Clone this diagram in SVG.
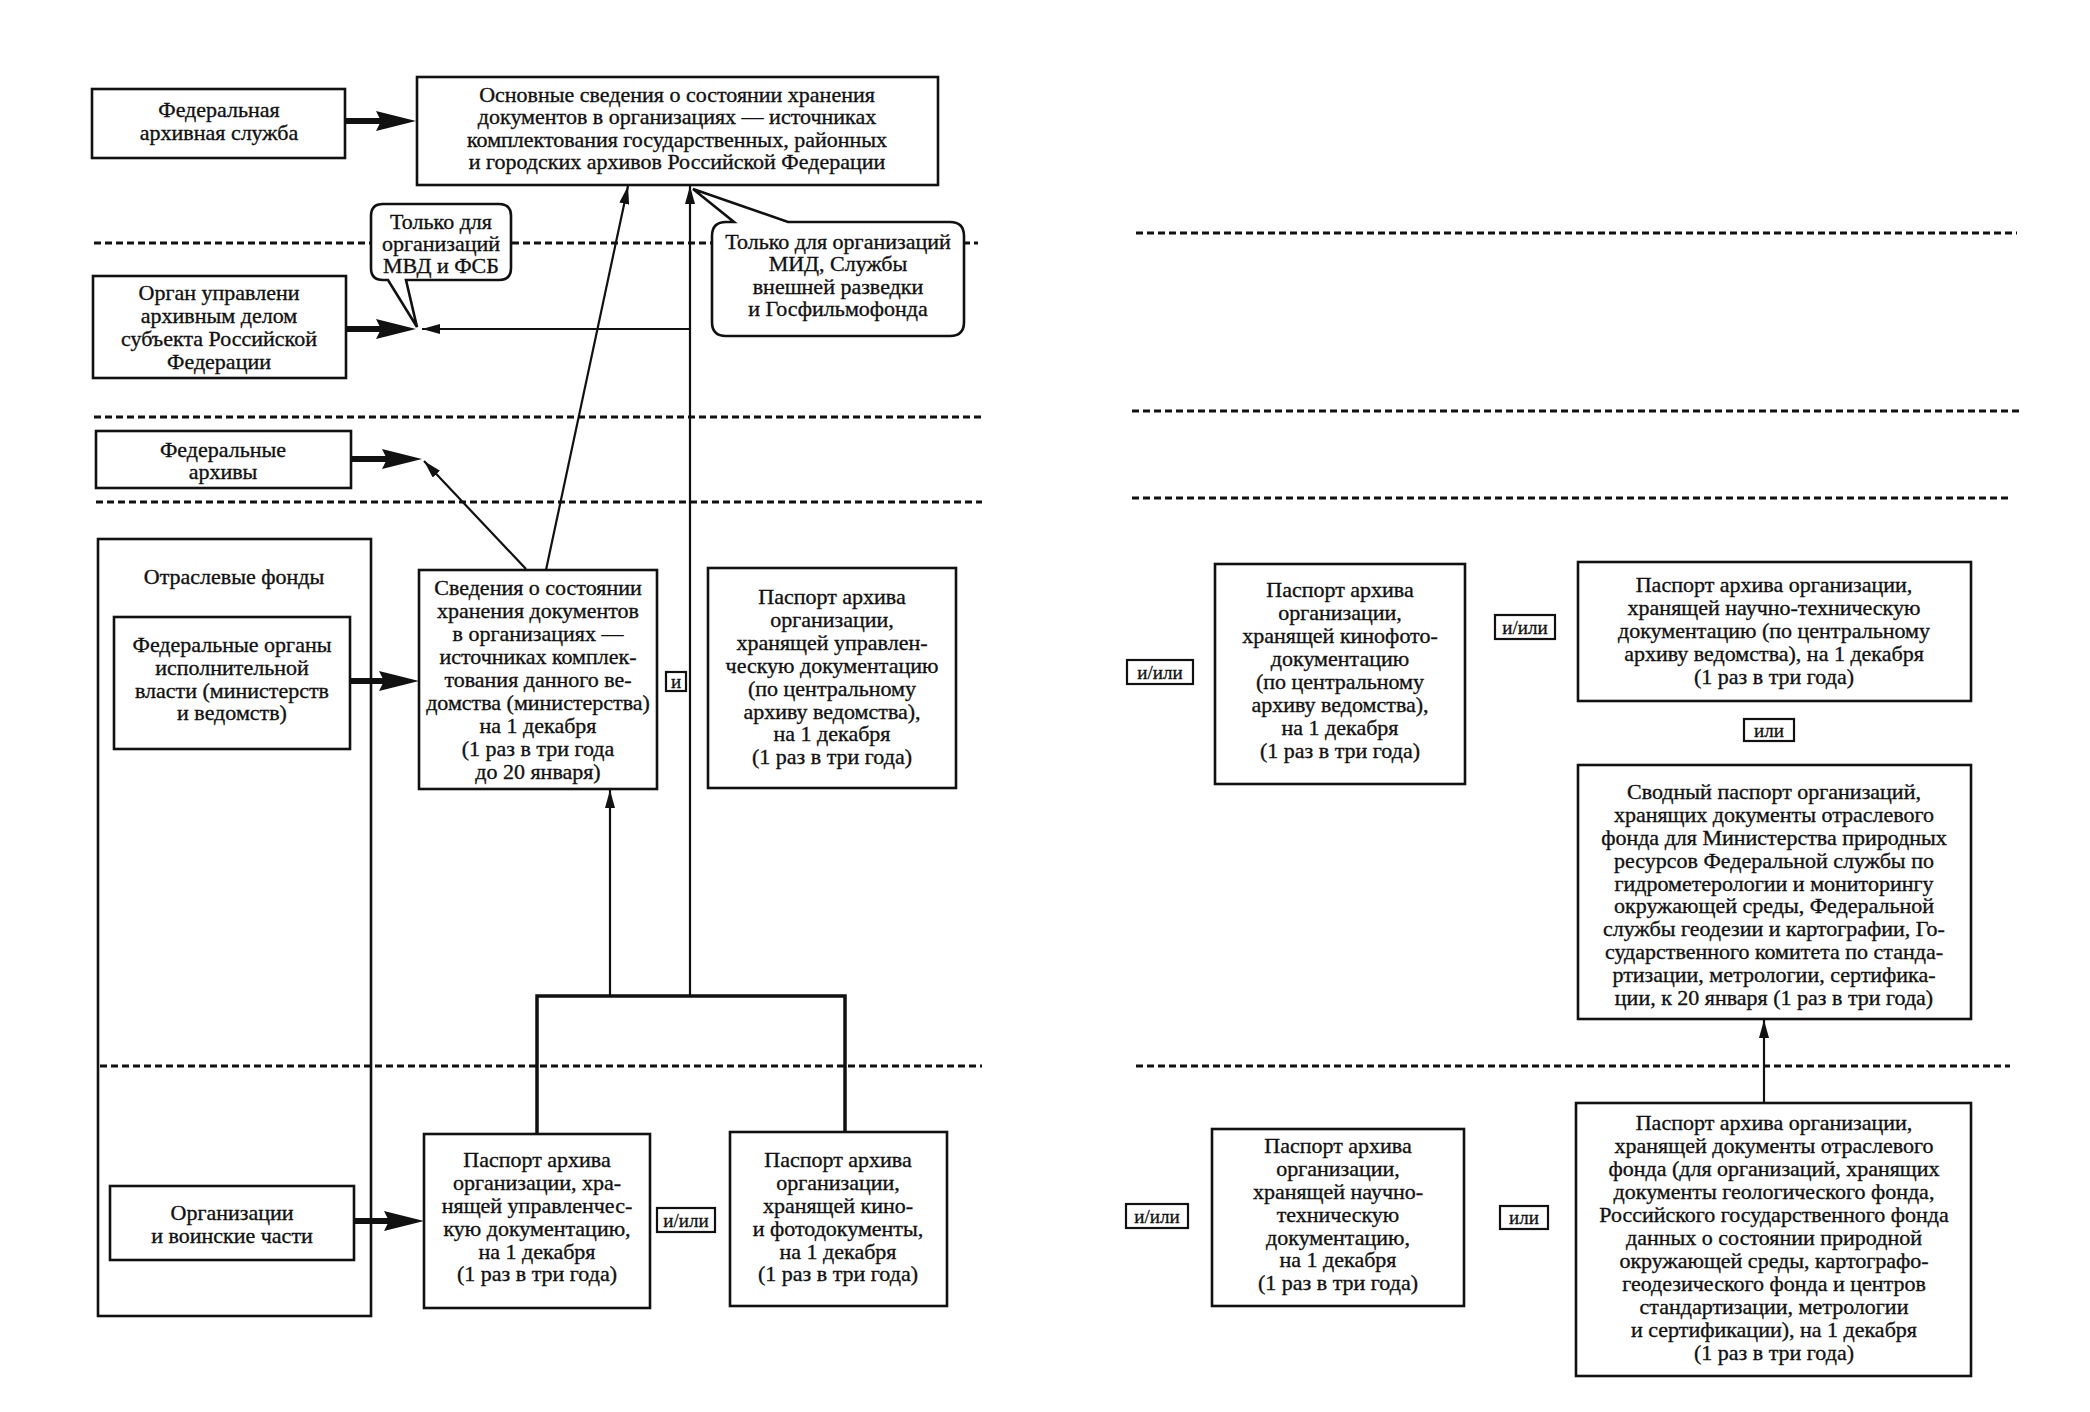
<svg xmlns="http://www.w3.org/2000/svg" width="2090" height="1412" viewBox="0 0 2090 1412">
<style>
.box{fill:#fff;stroke:#111;stroke-width:2.6}
.frame{fill:none;stroke:#111;stroke-width:2.6}
.lbl{fill:#fff;stroke:#111;stroke-width:2.2}
.t{font-family:"Liberation Serif","Times New Roman",serif;font-size:22px;text-anchor:middle;fill:#111;stroke:#111;stroke-width:0.35}
.s{font-family:"Liberation Serif","Times New Roman",serif;font-size:19px;text-anchor:middle;fill:#111;stroke:#111;stroke-width:0.3}
.dash{stroke:#111;stroke-width:3;stroke-dasharray:7 4;fill:none}
.thick{stroke:#111;stroke-width:6;fill:none;marker-end:url(#big)}
.thin{stroke:#111;stroke-width:2.2;fill:none;marker-end:url(#small)}
.branch{stroke:#111;stroke-width:3.5;fill:none}
</style>
<defs>
<marker id="big" markerUnits="userSpaceOnUse" viewBox="0 0 40 20" refX="10" refY="10" markerWidth="40" markerHeight="20" orient="auto">
<path d="M0,0 L40,10 L0,20 L5,10 Z" fill="#111"/>
</marker>
<marker id="small" markerUnits="userSpaceOnUse" viewBox="0 0 18 10" refX="18" refY="5" markerWidth="18" markerHeight="10" orient="auto">
<path d="M0,0 L18,5 L0,10 Z" fill="#111"/>
</marker>
</defs>
<rect width="2090" height="1412" fill="#fff"/>

<g id="n5-frame">
<rect class="frame" x="98" y="539" width="273" height="777"/>
<text class="t" x="234" y="584">Отраслевые фонды</text>
</g>

<g id="separators">
<line class="dash" x1="94" y1="243" x2="978" y2="243"/>
<line class="dash" x1="94" y1="417" x2="982" y2="417"/>
<line class="dash" x1="96" y1="502" x2="982" y2="502"/>
<line class="dash" x1="100" y1="1066" x2="982" y2="1066"/>
<line class="dash" x1="1136" y1="233" x2="2017" y2="233"/>
<line class="dash" x1="1132" y1="411" x2="2019" y2="411"/>
<line class="dash" x1="1132" y1="498" x2="2010" y2="498"/>
<line class="dash" x1="1136" y1="1066" x2="2010" y2="1066"/>
</g>

<g id="connectors">
<line class="thick" x1="345" y1="121" x2="386" y2="121"/>
<line class="thick" x1="346" y1="329" x2="386" y2="329"/>
<line class="thick" x1="351" y1="459" x2="392" y2="459"/>
<line class="thick" x1="350" y1="681" x2="389" y2="681"/>
<line class="thick" x1="354" y1="1221" x2="394" y2="1221"/>
<line class="thin" x1="546" y1="570" x2="628" y2="186"/>
<line class="thin" x1="526" y1="569" x2="424" y2="461"/>
<line class="thin" x1="690" y1="996" x2="690" y2="186"/>
<line class="thin" x1="690" y1="329" x2="422" y2="329"/>
<line class="thin" x1="610" y1="996" x2="610" y2="790"/>
<polyline class="branch" points="537,1134 537,996 845,996 845,1132"/>
<line class="thin" x1="1764" y1="1103" x2="1764" y2="1020"/>
</g>

<g id="n1">
<rect class="box" x="92" y="89" width="253" height="69"/>
<text class="t" x="219" y="117">Федеральная</text>
<text class="t" x="219" y="140">архивная служба</text>
</g>

<g id="n2">
<rect class="box" x="417" y="77" width="521" height="108"/>
<text class="t" x="677" y="102">Основные сведения о состоянии хранения</text>
<text class="t" x="677" y="124">документов в организациях — источниках</text>
<text class="t" x="677" y="147">комплектования государственных, районных</text>
<text class="t" x="677" y="169">и городских архивов Российской Федерации</text>
</g>

<g id="callout1">
<path class="box" d="M383,204 H499 Q511,204 511,216 V268 Q511,280 499,280 H406 L417,327 L388,280 H383 Q371,280 371,268 V216 Q371,204 383,204 Z"/>
<text class="t" x="441" y="229">Только для</text>
<text class="t" x="441" y="251">организаций</text>
<text class="t" x="441" y="273">МВД и ФСБ</text>
</g>

<g id="callout2">
<path class="box" d="M726,222 H734 L693,189 L788,222 H950 Q964,222 964,236 V322 Q964,336 950,336 H726 Q712,336 712,322 V236 Q712,222 726,222 Z"/>
<text class="t" x="838" y="249">Только для организаций</text>
<text class="t" x="838" y="271">МИД, Службы</text>
<text class="t" x="838" y="294">внешней разведки</text>
<text class="t" x="838" y="316">и Госфильмофонда</text>
</g>

<g id="n3">
<rect class="box" x="93" y="276" width="253" height="102"/>
<text class="t" x="219" y="300">Орган управлени</text>
<text class="t" x="219" y="323">архивным делом</text>
<text class="t" x="219" y="346">субъекта Российской</text>
<text class="t" x="219" y="369">Федерации</text>
</g>

<g id="n4">
<rect class="box" x="96" y="431" width="255" height="57"/>
<text class="t" x="223" y="457">Федеральные</text>
<text class="t" x="223" y="479">архивы</text>
</g>

<g id="n6">
<rect class="box" x="114" y="617" width="236" height="132"/>
<text class="t" x="232" y="652">Федеральные органы</text>
<text class="t" x="232" y="675">исполнительной</text>
<text class="t" x="232" y="698">власти (министерств</text>
<text class="t" x="232" y="720">и ведомств)</text>
</g>

<g id="n7">
<rect class="box" x="419" y="570" width="238" height="219"/>
<text class="t" x="538" y="595">Сведения о состоянии</text>
<text class="t" x="538" y="618">хранения документов</text>
<text class="t" x="538" y="641">в организациях —</text>
<text class="t" x="538" y="664">источниках комплек-</text>
<text class="t" x="538" y="687">тования данного ве-</text>
<text class="t" x="538" y="710">домства (министерства)</text>
<text class="t" x="538" y="733">на 1 декабря</text>
<text class="t" x="538" y="756">(1 раз в три года</text>
<text class="t" x="538" y="779">до 20 января)</text>
</g>

<g id="n8">
<rect class="lbl" x="666" y="672" width="20" height="19"/>
<text class="s" x="676" y="688">и</text>
</g>

<g id="n9">
<rect class="box" x="708" y="568" width="248" height="220"/>
<text class="t" x="832" y="604">Паспорт архива</text>
<text class="t" x="832" y="627">организации,</text>
<text class="t" x="832" y="650">хранящей управлен-</text>
<text class="t" x="832" y="673">ческую документацию</text>
<text class="t" x="832" y="696">(по центральному</text>
<text class="t" x="832" y="719">архиву ведомства),</text>
<text class="t" x="832" y="741">на 1 декабря</text>
<text class="t" x="832" y="764">(1 раз в три года)</text>
</g>

<g id="n10">
<rect class="box" x="110" y="1186" width="244" height="74"/>
<text class="t" x="232" y="1220">Организации</text>
<text class="t" x="232" y="1243">и воинские части</text>
</g>

<g id="n11">
<rect class="box" x="424" y="1134" width="226" height="174"/>
<text class="t" x="537" y="1167">Паспорт архива</text>
<text class="t" x="537" y="1190">организации, хра-</text>
<text class="t" x="537" y="1213">нящей управленчес-</text>
<text class="t" x="537" y="1236">кую документацию,</text>
<text class="t" x="537" y="1259">на 1 декабря</text>
<text class="t" x="537" y="1281">(1 раз в три года)</text>
</g>

<g id="n12">
<rect class="lbl" x="657" y="1208" width="58" height="24"/>
<text class="s" x="686" y="1227">и/или</text>
</g>

<g id="n13">
<rect class="box" x="730" y="1132" width="217" height="174"/>
<text class="t" x="838" y="1167">Паспорт архива</text>
<text class="t" x="838" y="1190">организации,</text>
<text class="t" x="838" y="1213">хранящей кино-</text>
<text class="t" x="838" y="1236">и фотодокументы,</text>
<text class="t" x="838" y="1259">на 1 декабря</text>
<text class="t" x="838" y="1281">(1 раз в три года)</text>
</g>

<g id="n14">
<rect class="lbl" x="1127" y="660" width="66" height="24"/>
<text class="s" x="1160" y="679">и/или</text>
</g>

<g id="n15">
<rect class="box" x="1215" y="564" width="250" height="220"/>
<text class="t" x="1340" y="597">Паспорт архива</text>
<text class="t" x="1340" y="620">организации,</text>
<text class="t" x="1340" y="643">хранящей кинофото-</text>
<text class="t" x="1340" y="666">документацию</text>
<text class="t" x="1340" y="689">(по центральному</text>
<text class="t" x="1340" y="712">архиву ведомства),</text>
<text class="t" x="1340" y="735">на 1 декабря</text>
<text class="t" x="1340" y="758">(1 раз в три года)</text>
</g>

<g id="n16">
<rect class="lbl" x="1495" y="615" width="60" height="24"/>
<text class="s" x="1525" y="634">и/или</text>
</g>

<g id="n17">
<rect class="box" x="1578" y="562" width="393" height="139"/>
<text class="t" x="1774" y="592">Паспорт архива организации,</text>
<text class="t" x="1774" y="615">хранящей научно-техническую</text>
<text class="t" x="1774" y="638">документацию (по центральному</text>
<text class="t" x="1774" y="661">архиву ведомства), на 1 декабря</text>
<text class="t" x="1774" y="684">(1 раз в три года)</text>
</g>

<g id="n18">
<rect class="lbl" x="1744" y="719" width="50" height="22"/>
<text class="s" x="1769" y="737">или</text>
</g>

<g id="n19">
<rect class="box" x="1578" y="765" width="393" height="254"/>
<text class="t" x="1774" y="799">Сводный паспорт организаций,</text>
<text class="t" x="1774" y="822">хранящих документы отраслевого</text>
<text class="t" x="1774" y="845">фонда для Министерства природных</text>
<text class="t" x="1774" y="868">ресурсов Федеральной службы по</text>
<text class="t" x="1774" y="891">гидрометерологии и мониторингу</text>
<text class="t" x="1774" y="913">окружающей среды, Федеральной</text>
<text class="t" x="1774" y="936">службы геодезии и картографии, Го-</text>
<text class="t" x="1774" y="959">сударственного комитета по станда-</text>
<text class="t" x="1774" y="982">ртизации, метрологии, сертифика-</text>
<text class="t" x="1774" y="1005">ции, к 20 января (1 раз в три года)</text>
</g>

<g id="n20">
<rect class="lbl" x="1126" y="1204" width="62" height="24"/>
<text class="s" x="1157" y="1223">и/или</text>
</g>

<g id="n21">
<rect class="box" x="1212" y="1129" width="252" height="177"/>
<text class="t" x="1338" y="1153">Паспорт архива</text>
<text class="t" x="1338" y="1176">организации,</text>
<text class="t" x="1338" y="1199">хранящей научно-</text>
<text class="t" x="1338" y="1222">техническую</text>
<text class="t" x="1338" y="1245">документацию,</text>
<text class="t" x="1338" y="1267">на 1 декабря</text>
<text class="t" x="1338" y="1290">(1 раз в три года)</text>
</g>

<g id="n22">
<rect class="lbl" x="1500" y="1206" width="48" height="23"/>
<text class="s" x="1524" y="1224">или</text>
</g>

<g id="n23">
<rect class="box" x="1576" y="1103" width="395" height="273"/>
<text class="t" x="1774" y="1130">Паспорт архива организации,</text>
<text class="t" x="1774" y="1153">хранящей документы отраслевого</text>
<text class="t" x="1774" y="1176">фонда (для организаций, хранящих</text>
<text class="t" x="1774" y="1199">документы геологического фонда,</text>
<text class="t" x="1774" y="1222">Российского государственного фонда</text>
<text class="t" x="1774" y="1245">данных о состоянии природной</text>
<text class="t" x="1774" y="1268">окружающей среды, картографо-</text>
<text class="t" x="1774" y="1291">геодезического фонда и центров</text>
<text class="t" x="1774" y="1314">стандартизации, метрологии</text>
<text class="t" x="1774" y="1337">и сертификации), на 1 декабря</text>
<text class="t" x="1774" y="1360">(1 раз в три года)</text>
</g>
</svg>
